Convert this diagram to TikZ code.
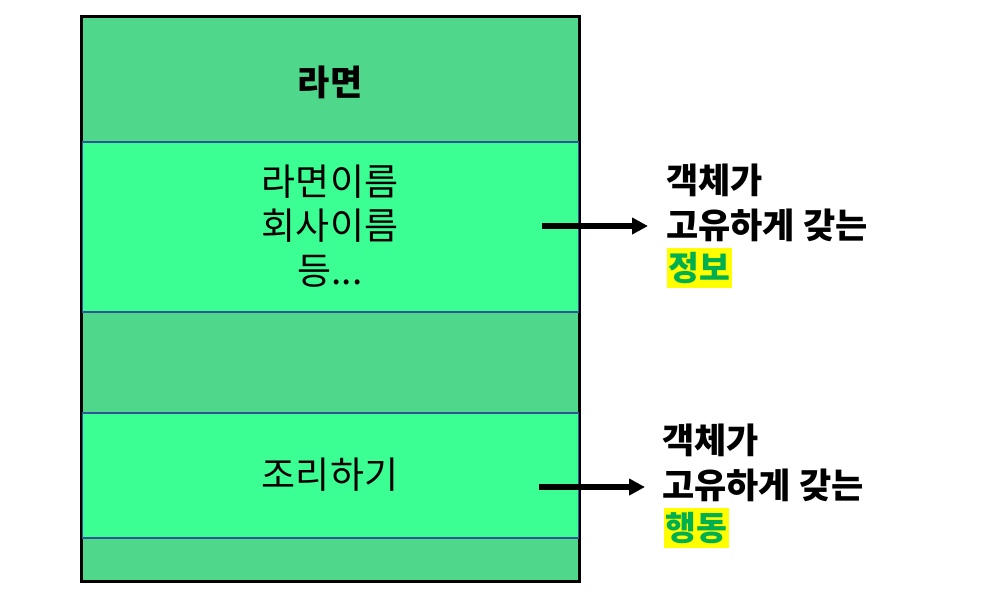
\documentclass[tikz,border=0pt]{standalone}
\usepackage{fontspec}
\newfontfamily\kr{Noto Sans CJK KR}
\usetikzlibrary{arrows.meta}
\definecolor{bandgreen}{HTML}{4FD88C}
\definecolor{brightgreen}{HTML}{3CFF94}
\definecolor{bandblue}{HTML}{2F5597}
\definecolor{hlgreen}{HTML}{00B050}
\definecolor{hlyellow}{HTML}{FFFF00}
\tikzset{
  objbox/.style={draw=black, line width=2.2pt, fill=bandgreen, minimum width=497pt, inner sep=0pt},
  partbox/.style={draw=bandblue, line width=2pt, fill=brightgreen, minimum width=497pt, inner sep=0pt},
  bodytext/.style={font=\kr\fontsize{37}{44.5}\selectfont, align=center, inner sep=0pt},
  titletext/.style={font=\kr\bfseries\fontsize{35}{40}\selectfont, inner sep=0pt},
  sidetext/.style={font=\kr\bfseries\fontsize{35}{40}\selectfont, anchor=west, inner sep=0pt},
  hlbox/.style={fill=hlyellow, minimum width=65pt, minimum height=40pt, inner sep=0pt, anchor=west},
  hltext/.style={font=\kr\bfseries\fontsize{33.5}{40}\selectfont, text=hlgreen, inner sep=0pt},
  pointer/.style={line width=5.5pt, -{Triangle[length=16pt,width=16pt]}}
}
\begin{document}
\begin{tikzpicture}[x=1pt,y=-1pt]
\useasboundingbox (0,0) rectangle (1001,608);
\node[objbox, minimum height=564pt] (obj) at (330.5,299) {};
\node[partbox, minimum height=170pt] (info) at (330.5,227) {};
\node[partbox, minimum height=125pt] (behav) at (330.5,475.5) {};
\draw[black, line width=2.2pt] (obj.north west) rectangle (obj.south east);
\node[titletext] (title) at (330,82) {라면};
\node[bodytext] (infotext) at (330,226) {라면이름\\회사이름\\등...};
\node[bodytext] (behavtext) at (330,475) {조리하기};
\node[sidetext] (s1a) at (666,180) {객체가};
\node[sidetext] (s1b) at (666,225) {고유하게 갖는};
\node[hlbox] (h1) at (667,268) {};
\node[hltext] (s1c) at (h1.center) {정보};
\node[sidetext] (s2a) at (662,440) {객체가};
\node[sidetext] (s2b) at (662,485) {고유하게 갖는};
\node[hlbox] (h2) at (664,528) {};
\node[hltext] (s2c) at (h2.center) {행동};
\coordinate (a1s) at (542,226);
\coordinate (a1e) at (648,226);
\coordinate (a2s) at (539,487);
\coordinate (a2e) at (645,487);
\draw[pointer] (a1s) -- (a1e);
\draw[pointer] (a2s) -- (a2e);
\end{tikzpicture}
\end{document}
